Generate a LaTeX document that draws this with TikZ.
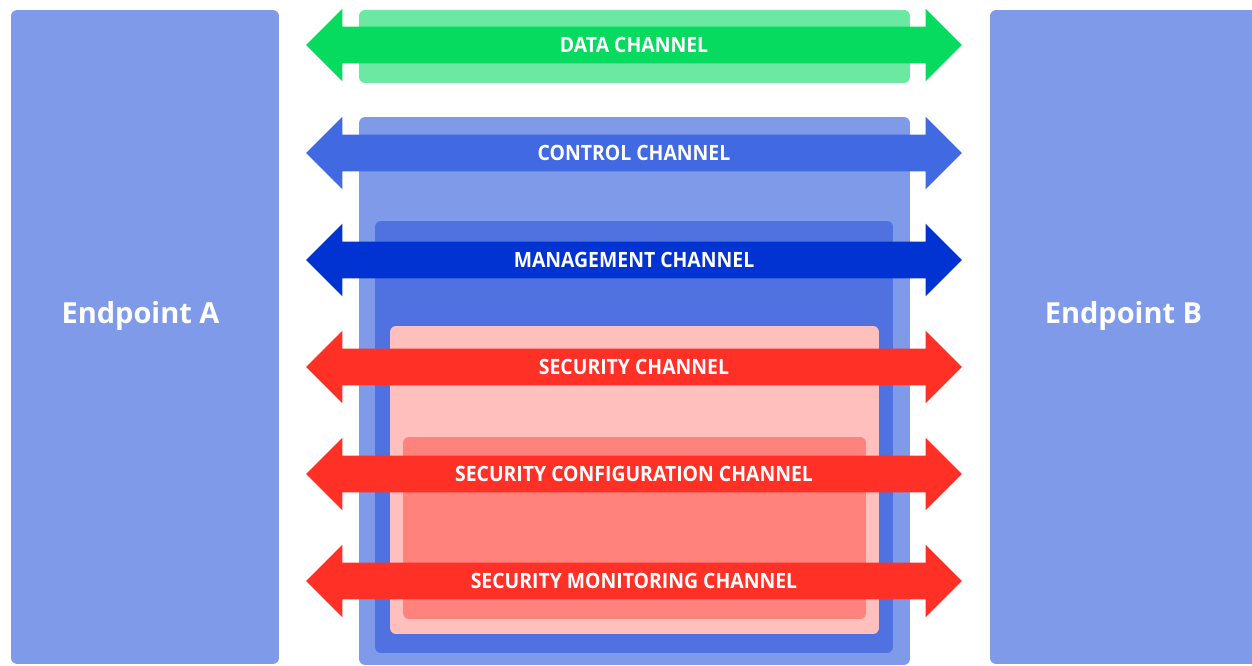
\documentclass[tikz,border=0pt]{standalone}
\usepackage{fontspec}
\setmainfont{Open Sans}
\newfontfamily\chfont[FakeStretch=0.92]{Open Sans}
\usepackage{tikz}
\usetikzlibrary{shapes.arrows}
\definecolor{epblue}{HTML}{7F9AE9}
\definecolor{datagreen}{HTML}{07DB5F}
\definecolor{databox}{HTML}{6BE8A1}
\definecolor{ctrlblue}{HTML}{4169E1}
\definecolor{ctrlbox}{HTML}{7F9AE9}
\definecolor{mgmtblue}{HTML}{0033D1}
\definecolor{mgmtbox}{HTML}{4F72E0}
\definecolor{secred}{HTML}{FF3126}
\definecolor{secbox}{HTML}{FFC0BD}
\definecolor{cfgbox}{HTML}{FF827D}
\tikzset{
  endnode/.style={rectangle,fill=epblue,rounded corners=0.12cm,inner sep=0pt,minimum width=5.36cm,minimum height=13.08cm},
  endlabel/.style={text=white,inner sep=0pt,font=\fontsize{16.5}{20}\selectfont\bfseries},
  chbox/.style={rectangle,rounded corners=0.12cm,inner sep=0pt},
  charrow/.style={double arrow,double arrow head extend=0.36cm,double arrow tip angle=90,
    minimum height=13.12cm,minimum width=1.44cm,inner sep=0pt,
    text height=0.51cm,text depth=0.21cm,text=white,font=\chfont\fontsize{12}{14}\selectfont\bfseries},
}

\begin{document}
\begin{tikzpicture}[x=0.02cm,y=-0.02cm]
  \useasboundingbox (0,0) rectangle (1252,666);
  \clip (0,0) rectangle (1252,666);
  % ---- the two endpoints ----
  \node[endnode] (epA) at (145,337) {};
  \node[endnode] (epB) at (1124,337) {};
  \node[endlabel,anchor=base] (epAtext) at (140.5,323) {Endpoint A};
  \node[endlabel,anchor=base] (epBtext) at (1123.5,323) {Endpoint B};
  % ---- nested channel boxes ----
  \node[chbox,fill=databox,minimum width=11.02cm,minimum height=1.46cm] (dataBox) at (634.5,46.5) {};
  \node[chbox,fill=ctrlbox,minimum width=11.02cm,minimum height=10.96cm] (ctrlBox) at (634.5,391) {};
  \node[chbox,fill=mgmtbox,minimum width=10.36cm,minimum height=8.64cm] (mgmtBox) at (634,437) {};
  \node[chbox,fill=secbox,minimum width=9.78cm,minimum height=6.16cm] (secBox) at (634.5,480) {};
  \node[chbox,fill=cfgbox,minimum width=9.26cm,minimum height=3.64cm] (cfgBox) at (634.5,528) {};
  % ---- channels between A and B ----
  \node[charrow,fill=datagreen] (dataCh) at (634,45) {DATA CHANNEL};
  \node[charrow,fill=ctrlblue] (ctrlCh) at (634,153) {CONTROL CHANNEL};
  \node[charrow,fill=mgmtblue] (mgmtCh) at (634,260) {MANAGEMENT CHANNEL};
  \node[charrow,fill=secred] (secCh) at (634,367) {SECURITY CHANNEL};
  \node[charrow,fill=secred] (cfgCh) at (634,474) {SECURITY CONFIGURATION CHANNEL};
  \node[charrow,fill=secred] (monCh) at (634,581) {SECURITY MONITORING CHANNEL};
\end{tikzpicture}
\end{document}
